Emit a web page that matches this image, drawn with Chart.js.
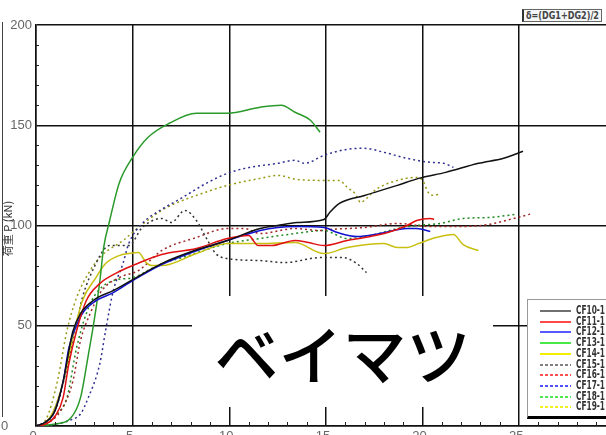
<!DOCTYPE html>
<html>
<head>
<meta charset="utf-8">
<script src="https://cdn.jsdelivr.net/npm/chart.js@4.4.0/dist/chart.umd.min.js"></script>
<style>
  html, body { margin: 0; padding: 0; background: #fff; }
  #wrap { position: relative; width: 606px; height: 435px; overflow: hidden; background: #fff; }
  #holder { position: absolute; left: 0; top: 0; width: 626px; height: 450px; }
  .abs { position: absolute; }
  #ytitle { left: -38px; top: 222px; width: 90px; height: 13px; transform: rotate(-90deg); font: 11px "Noto Sans CJK JP", "DejaVu Sans", sans-serif; color: #333; text-align: center; line-height: 13px; white-space: nowrap; }
  #frame { left: 2px; top: 22px; width: 1px; height: 395px; background: #444; }
  #y0 { left: 1px; top: 418px; font: 13px "Liberation Sans", Arial, sans-serif; color: #666; }
  #delta { left: 522px; top: 9px; width: 77px; height: 11px; border: 1px solid #666; border-left: 2px solid #333; background: #f4f6f8; overflow: hidden; }
  #delta span { position: absolute; left: 2px; top: -1px; font: bold 11px "DejaVu Sans Condensed", "DejaVu Sans", sans-serif; color: #444; line-height: 13px; white-space: nowrap; transform-origin: 0 0; }
  #wood { left: 192px; top: 296px; width: 301px; height: 111px; background: #fff; font: 500 64px "Noto Sans CJK JP", sans-serif; color: #000; text-align: center; line-height: 111px; }
  #legend { left: 527px; top: 299px; width: 100px; height: 116px; border: 1px solid #999; border-bottom: 3px solid #000; background: #fff; }
  .row { position: absolute; left: 0; height: 11px; width: 100px; }
  .sample { position: absolute; left: 12px; top: 4px; width: 31px; height: 2px; }
  .lab { position: absolute; left: 48px; top: -3px; font: bold 12px "DejaVu Sans Condensed", "DejaVu Sans", sans-serif; color: #333; line-height: 14px; white-space: nowrap; transform-origin: 0 0; }
</style>
</head>
<body>
<div id="wrap">
  <div id="holder"><canvas id="c" width="626" height="450"></canvas></div>
  <div id="frame" class="abs"></div>
  <div id="ytitle" class="abs">荷重 P (kN)</div>
  <div id="y0" class="abs">0</div>
  <div id="delta" class="abs"><span>δ=(DG1+DG2)/2</span></div>
  <div id="wood" class="abs">ベイマツ</div>
  <div id="legend" class="abs"></div>
</div>
<script>
// ---- data (displacement δ [mm] and load P [kN]) ----
const seriesNames = ['CF10-1','CF11-1','CF12-1','CF13-1','CF14-1','CF15-1','CF16-1','CF17-1','CF18-1','CF19-1'];

const cf10X = [0,0.5,1,1.4,1.9,2.3,3.1,4.0,5.0,6.5,8.2,9.9,11.6,12.5,13.5,14.9,15.2,15.7,17.0,18.7,19.8,21.2,22.9,24.2,25.2];
const cf10Y = [0,2,8,22,47,56,63.5,67.5,73,81,87.5,92.5,98.5,100,101.5,103,106.5,111,115,120,123.5,126.5,131,133.5,137];

const cf11X = [0,0.5,1.0,1.4,1.7,2.1,2.6,3.3,4.2,5.0,6.5,8.3,9.9,11.0,11.5,12.2,13.4,14.1,14.9,16.1,17.0,18.2,19.2,19.7,20.4,20.6];
const cf11Y = [0,1,5,14,31,47.5,62.5,71,76.5,80,85.5,88.5,93.5,95,90,90,92.5,91.5,90,92.5,94,96.5,100,102.5,103.5,103];

const cf12X = [0,0.5,0.9,1.4,1.7,2.2,2.5,3.1,4.0,5.0,6.5,8.2,9.9,11.6,12.5,13.5,14.9,15.6,16.6,17.8,19.2,19.7,20.4];
const cf12Y = [0,2,6,22,39,52.5,57.5,62.5,66.5,72.5,80.5,87,92.5,97.5,99,99.5,99,96.5,94.5,96,98.5,98.5,97];

const cf13X = [0,1.0,1.8,2.3,2.7,3.0,3.3,3.5,3.8,4.3,5.0,5.8,6.9,8.3,9.9,11.6,12.7,13.4,14.2,14.7];
const cf13Y = [0,1,4,14,35,52,72,89,102,121,134,144,151,156,156,159,160,156.5,152.5,146.5];

const cf14X = [0,0.4,0.9,1.4,1.9,2.4,3.1,3.6,4.3,4.8,5.3,5.7,6.0,6.5,8.3,9.9,11.6,13.4,14.9,16.1,18.0,18.7,19.2,19.8,20.7,21.6,22.1,22.9];
const cf14Y = [0,1,7.5,22,44,62.5,74,81,85,86,86.5,81.5,80,80,86,91,91,91.5,86,89,91,89,89,91,94,95.5,90.5,87.5];

const cf15X = [0,0.5,1.0,1.5,2.1,2.4,3.1,3.6,3.8,4.8,5.5,6.5,7.0,7.7,8.3,8.8,9.3,9.9,11.6,12.9,14.7,15.9,16.6,17.1];
const cf15Y = [0,2,8,25,51,64,81,89,90,90,99,103.5,101.5,107.5,102.5,94,86,83.5,82.5,81.5,84,84,81,76.5];

const cf16X = [0,0.7,1.3,1.9,2.3,2.8,3.4,4.3,5.3,6.5,8.3,9.9,10.8,11.6,13.4,14.7,15.2,17.0,18.7,20.4,22.1,23.4,24.7,25.7];
const cf16Y = [0,2,8,22,42.5,56,67.5,74,77.5,87.5,94,98.5,98.5,96,98.5,97.5,98,99,101,99.5,99.5,100.5,103.5,106];

const cf17X = [0,1.0,1.8,2.3,2.7,3.3,3.6,4.0,4.5,4.8,5.5,6.5,7.5,8.8,9.9,10.8,12.5,13.4,13.9,14.9,16.1,17.0,18.0,19.2,20.4,21.1,21.6];
const cf17Y = [0,1,3,6,14,31,47.5,67.5,81,91,101,108,113.5,121,126,128.5,131,132.5,131,135,138,138.5,136.5,133.5,131.5,131,129];

const cf18X = [0,0.6,1.1,1.6,2.1,2.6,3.1,4.0,5.0,6.5,7.4,9.9,11.6,13.4,14.9,16.1,17.3,18.7,19.7,20.9,22.1,23.4,24.8];
const cf18Y = [0,2,6,14,39,56,66,72.5,74,81,83.5,91,93.5,96,97.5,93.5,95,98.5,100,101,103.5,104,105.5];

const cf19X = [0,0.5,1.1,1.6,2.1,2.8,3.4,4.5,5.3,6.5,7.2,8.3,9.9,11.6,12.5,13.5,14.9,15.7,16.1,16.5,16.8,17.1,17.6,18.7,19.7,20.0,20.3,20.6,20.9];
const cf19Y = [0,3,22,47.5,64,77.5,85,92.5,99,107.5,111,115,120,123.5,125,123,122.5,122.5,119,116,111.5,113.5,118,122.5,124,122.5,116.5,115,116];

const yTicks = [0, 50, 100, 150, 200];
const xTicks = [0, 5, 10, 15, 20, 25, 30];

// ---- styles ----
const lineColors   = ['#111111','#e01010','#1010d0','#2a9a2a','#c8c010','#333333','#a02828','#303090','#208a20','#9a9a18'];
const legendColors = ['#707070','#ff4848','#5858ff','#48e848','#f0f000','#808080','#ff5050','#5050ff','#50e850','#f0f020'];
const dashed       = [false,false,false,false,false,true,true,true,true,true];

const xs = [cf10X,cf11X,cf12X,cf13X,cf14X,cf15X,cf16X,cf17X,cf18X,cf19X];
const ys = [cf10Y,cf11Y,cf12Y,cf13Y,cf14Y,cf15Y,cf16Y,cf17Y,cf18Y,cf19Y];

const datasets = seriesNames.map((name, i) => ({
  label: name,
  data: xs[i].map((x, k) => ({ x: x, y: ys[i][k] })),
  borderColor: lineColors[i],
  borderWidth: 1.5,
  borderDash: dashed[i] ? [2, 3] : [],
  pointRadius: 0,
  fill: false,
  tension: 0,
  cubicInterpolationMode: 'monotone'
}));

const minorTicks = {
  id: 'minorTicks',
  afterDraw(chart) {
    const ctx = chart.ctx, a = chart.chartArea;
    const xs_ = chart.scales.x, ys_ = chart.scales.y;
    ctx.save();
    ctx.strokeStyle = '#222';
    ctx.lineWidth = 1;
    ctx.beginPath();
    for (let v = 1; v < 30; v++) {
      if (v % 5 === 0) continue;
      const px = Math.round(xs_.getPixelForValue(v)) + 0.5;
      ctx.moveTo(px, a.bottom);
      ctx.lineTo(px, a.bottom - 4);
    }
    for (let v = 10; v < 200; v += 10) {
      if (v % 50 === 0) continue;
      const py = Math.round(ys_.getPixelForValue(v)) + 0.5;
      ctx.moveTo(a.left, py);
      ctx.lineTo(a.left + 3, py);
    }
    ctx.stroke();
    ctx.restore();
  }
};

new Chart(document.getElementById('c'), {
  type: 'line',
  data: { datasets: datasets },
  options: {
    responsive: false,
    animation: false,
    events: [],
    layout: { padding: { left: 0, top: 25, right: 4, bottom: 0 } },
    plugins: { legend: { display: false }, tooltip: { enabled: false } },
    scales: {
      x: {
        type: 'linear',
        min: 0, max: 30,
        afterBuildTicks(s) { s.ticks = xTicks.map(v => ({ value: v })); },
        afterFit(s) { s.height = 24; },
        grid: { color: '#111', lineWidth: 1.5, drawTicks: false },
        border: { color: '#111', width: 1.5 },
        ticks: { color: '#666', padding: 3, labelOffset: -3, font: { family: 'Liberation Sans', size: 13 } }
      },
      y: {
        type: 'linear',
        min: 0, max: 200,
        afterBuildTicks(s) { s.ticks = yTicks.map(v => ({ value: v })); },
        afterFit(s) { s.width = 36; },
        grid: { color: '#111', lineWidth: 1.5, drawTicks: false },
        border: { color: '#111', width: 1.5 },
        ticks: { color: '#666', padding: 4, font: { family: 'Liberation Sans', size: 13 },
                 callback: v => (v === 0 ? '' : String(v)) }
      }
    }
  },
  plugins: [minorTicks]
});

// legend built from the series
const leg = document.getElementById('legend');
seriesNames.forEach((name, i) => {
  const row = document.createElement('div');
  row.className = 'row';
  row.style.top = (6 + i * 10.7) + 'px';
  const s = document.createElement('div');
  s.className = 'sample';
  if (dashed[i]) {
    s.style.background = 'repeating-linear-gradient(to right,' + legendColors[i] + ' 0 3px, transparent 3px 5px)';
  } else {
    s.style.background = legendColors[i];
  }
  const t = document.createElement('div');
  t.className = 'lab';
  t.textContent = name;
  row.appendChild(s);
  row.appendChild(t);
  leg.appendChild(row);
  const w = t.getBoundingClientRect().width;
  t.style.transform = 'scaleX(' + (29 / w) + ')';
});
const dsp = document.querySelector('#delta span');
const dw = dsp.getBoundingClientRect().width;
dsp.style.transform = 'scaleX(' + (73 / dw) + ')';
</script>
</body>
</html>
